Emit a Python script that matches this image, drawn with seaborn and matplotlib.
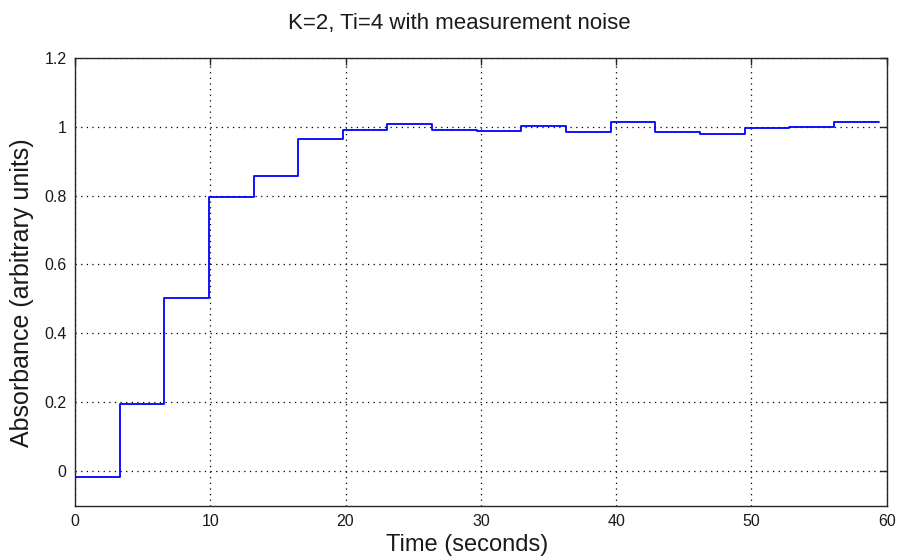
import numpy as np
import pandas as pd
import matplotlib
matplotlib.use("Agg")
import matplotlib.pyplot as plt
import seaborn as sns

# Data (sample period 3.3 s)
time_s = [0.0, 3.3, 6.6, 9.9, 13.2, 16.5, 19.8, 23.1, 26.4, 29.7,
          33.0, 36.3, 39.6, 42.9, 46.2, 49.5, 52.8, 56.1, 59.4]
absorbance = [-0.017, 0.195, 0.504, 0.797, 0.858, 0.964, 0.991, 1.009, 0.991, 0.987,
              1.001, 0.983, 1.013, 0.985, 0.979, 0.995, 1.000, 1.012, 1.012]
x_ticks = [0, 10, 20, 30, 40, 50, 60]
y_ticks = [0, 0.2, 0.4, 0.6, 0.8, 1.0, 1.2]
y_tick_labels = ["0", "0.2", "0.4", "0.6", "0.8", "1", "1.2"]

sns.set_theme(style="white")
plt.rcParams['font.family'] = ['Liberation Sans', 'DejaVu Sans']

df = pd.DataFrame({"t": time_s, "y": absorbance})

fig = plt.figure(figsize=(8.97, 5.59), dpi=100)
ax = fig.add_axes([0.0836, 0.0953, 0.9049, 0.8015])

sns.lineplot(data=df, x="t", y="y", ax=ax, color=(0, 0, 1), linewidth=1.3,
             drawstyle="steps-post", estimator=None, sort=False)

ax.set_xlim(0, 60)
ax.set_ylim(-0.1, 1.2)
ax.set_xticks(x_ticks)
ax.set_xticklabels([str(v) for v in x_ticks])
ax.set_yticks(y_ticks)
ax.set_yticklabels(y_tick_labels)

ax.grid(True, color="black", linestyle=(0, (1, 3.5)), linewidth=0.9)
for s in ax.spines.values():
    s.set_color("#262626")
    s.set_linewidth(1.0)
ax.tick_params(direction="in", length=5, width=1, color="#262626",
               top=True, right=True, labelsize=11.5, labelcolor="#1a1a1a", pad=6)

ax.set_xlabel("Time (seconds)", fontsize=17, color="#1a1a1a")
ax.xaxis.set_label_coords(0.483, -0.064)
ax.set_ylabel("Absorbance (arbitrary units)", fontsize=18, color="#1a1a1a")
ax.yaxis.set_label_coords(-0.05, 0.475)
ax.set_title("K=2, Ti=4 with measurement noise", fontsize=16, pad=21,
             color="#1a1a1a", x=0.473)

fig.savefig("out.png", dpi=100, facecolor="white")
